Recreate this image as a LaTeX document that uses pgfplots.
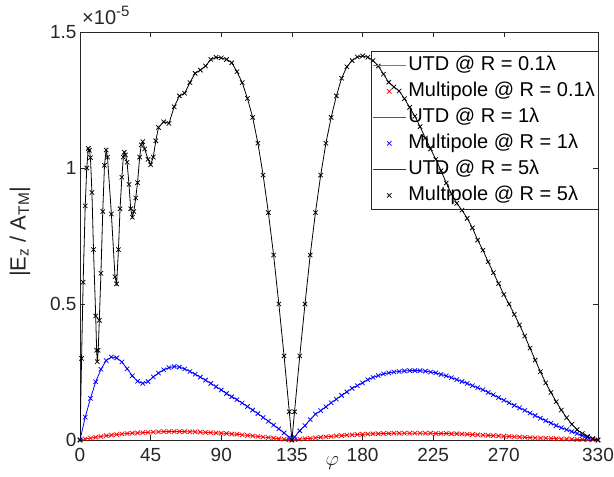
\documentclass[border=0pt]{standalone}
\usepackage{pgfplots}
\pgfplotsset{compat=1.18}
\usepackage{pgfplotstable}
\usepackage{fontspec}
\setmainfont{Liberation Sans}
\definecolor{axgray}{RGB}{38,38,38}
\pgfplotsset{
    legend image code/.code={\draw[mark repeat=2,mark phase=2,#1] plot coordinates {(0pt,0pt) (16.5pt,0pt) (33pt,0pt)};},
    mp/.style={draw=#1, color=#1, only marks, mark=x, mark size=3.1pt, line width=0.75pt},
}

% |Ez/ATM| in units of 1e-5; nan = point only on the black UTD curve
\pgfplotstableread{
phi     red    blue   black
0       0      0      0
1       nan    nan    0.30
2       nan    nan    0.58
3.333   0.004  0.084  0.861
4.3     nan    nan    1.00
5.3     nan    nan    1.072
6.0     nan    nan    1.065
6.667   0.007  0.153  1.038
7.6     nan    nan    0.91
8.6     nan    nan    0.70
10      0.010  0.214  0.456
10.6    nan    nan    0.33
11.0    nan    nan    0.288
11.6    nan    nan    0.33
12.3    nan    nan    0.44
13.333  0.013  0.260  0.613
14.5    nan    nan    0.84
15.6    nan    nan    1.01
16.667  0.016  0.292  1.066
17.5    nan    nan    1.04
20      0.018  0.305  0.831
22.3    nan    nan    0.60
23.333  0.020  0.302  0.574
24.5    nan    nan    0.70
25.5    nan    nan    0.85
26.667  0.022  0.287  0.966
27.6    nan    nan    1.04
28.2    nan    nan    1.058
29.0    nan    nan    1.048
30      0.024  0.262  1.021
31.2    nan    nan    0.94
32.3    nan    nan    0.85
33.333  0.025  0.236  0.819
34.3    nan    nan    0.84
35.5    nan    nan    0.89
36.667  0.026  0.216  0.946
38.0    nan    nan    1.04
39.0    nan    nan    1.085
40      0.027  0.208  1.097
41.2    nan    nan    1.07
43.333  0.028  0.215  1.032
45.0    nan    nan    1.012
46.667  0.029  0.232  1.040
48.3    nan    nan    1.10
50      0.030  0.246  1.149
53.333  0.031  0.258  1.170
56.667  0.031  0.266  1.164
60      0.031  0.270  1.225
63.333  0.031  0.268  1.265
66.667  0.031  0.261  1.275
70      0.030  0.252  1.314
73.333  0.030  0.242  1.348
76.667  0.029  0.231  1.360
80      0.028  0.220  1.375
83.333  0.027  0.208  1.399
86.667  0.026  0.196  1.407
90      0.025  0.184  1.405
93.333  0.024  0.171  1.399
96.667  0.022  0.159  1.387
100     0.021  0.148  1.354
103.333 0.019  0.136  1.314
106.667 0.017  0.123  1.256
110     0.015  0.110  1.186
113.333 0.013  0.097  1.091
116.667 0.011  0.083  0.974
120     0.009  0.069  0.836
123.333 0.007  0.055  0.680
126.667 0.005  0.041  0.500
130     0.003  0.026  0.309
133.333 0.001  0.010  0.104
135     0      0      0
136.667 0.001  0.011  0.104
140     0.003  0.034  0.309
143.333 0.005  0.053  0.500
146.667 0.006  0.075  0.680
150     0.008  0.095  0.836
153.333 0.010  0.108  0.974
156.667 0.012  0.122  1.091
160     0.013  0.137  1.186
163.333 0.015  0.150  1.265
166.667 0.016  0.164  1.330
170     0.018  0.177  1.372
173.333 0.019  0.190  1.395
176.667 0.020  0.200  1.408
180     0.021  0.210  1.412
183.333 0.022  0.222  1.407
186.667 0.023  0.230  1.395
190     0.023  0.237  1.375
193.333 0.024  0.243  1.345
196.667 0.024  0.247  1.315
200     0.025  0.250  1.298
203.333 0.025  0.252  1.283
206.667 0.025  0.254  1.255
210     0.025  0.255  1.223
213.333 0.025  0.255  1.190
216.667 0.025  0.255  1.152
220     0.025  0.253  1.110
223.333 0.025  0.250  1.070
226.667 0.024  0.247  1.032
230     0.024  0.241  0.990
233.333 0.024  0.236  0.945
236.667 0.023  0.229  0.905
240     0.023  0.222  0.870
243.333 0.022  0.215  0.845
246.667 0.021  0.208  0.815
250     0.020  0.200  0.780
253.333 0.019  0.192  0.735
256.667 0.018  0.185  0.698
260     0.017  0.175  0.655
263.333 0.016  0.166  0.615
266.667 0.015  0.156  0.575
270     0.014  0.146  0.535
273.333 0.013  0.137  0.500
276.667 0.012  0.127  0.462
280     0.011  0.118  0.423
283.333 0.010  0.109  0.382
286.667 0.009  0.099  0.338
290     0.008  0.090  0.294
293.333 0.007  0.080  0.251
296.667 0.007  0.071  0.210
300     0.006  0.062  0.175
303.333 0.005  0.053  0.141
306.667 0.004  0.045  0.110
310     0.004  0.038  0.082
313.333 0.003  0.031  0.058
316.667 0.002  0.024  0.038
320     0.002  0.016  0.024
323.333 0.001  0.010  0.013
326.667 0.001  0.005  0.005
330     0      0      0
}\fields

\begin{document}
\begin{tikzpicture}
\begin{axis}[
    name=ax,
    scale only axis,
    width=518pt, height=408pt,
    xmin=0, xmax=330, ymin=0, ymax=1.5,
    xtick={0,45,90,135,180,225,270,330},
    ytick={0,0.5,1,1.5},
    tick pos=both,
    tick align=inside,
    major tick length=5pt,
    axis line style={draw=axgray, line width=0.6pt},
    tick style={draw=axgray, line width=0.6pt},
    /pgf/number format/assume math mode=true,
    ticklabel style={font=\fontsize{19}{19}\selectfont, text=axgray},
    xticklabel style={yshift=-5pt},
    xlabel={$\varphi$},
    xlabel style={at={(axis description cs:0.487,-0.057)}, anchor=center, font=\fontsize{20}{20}\selectfont, text=axgray},
    ylabel={|E\textsubscript{z} / A\textsubscript{TM}|},
    ylabel style={at={(axis description cs:-0.116,0.51)}, anchor=center, font=\fontsize{22}{22}\selectfont, text=axgray},
    unbounded coords=discard,
    legend cell align=left,
    legend style={at={(1,0.953)}, anchor=north east, fill=none, draw=axgray,
        inner sep=1pt, row sep=0pt,
        font=\fontsize{20}{20}\selectfont,
        nodes={inner ysep=3pt, inner xsep=2pt, text height=15pt, text depth=5pt}},
]
\addplot[draw=red, line width=0.8pt, forget plot] table[x=phi, y=red] {\fields};
\addplot[draw=blue, line width=0.8pt, forget plot] table[x=phi, y=blue] {\fields};
\addplot[draw=black, line width=0.8pt, forget plot] table[x=phi, y=black] {\fields};
\addplot[mp=red, forget plot] table[x=phi, y=red] {\fields};
\addplot[mp=blue, forget plot] table[x=phi, y=blue] {\fields};
\addplot[mp=black, forget plot] table[x=phi, y=black] {\fields};
\addlegendimage{red!75!white, line width=1pt}
\addlegendentry{UTD @ R = 0.1λ}
\addlegendimage{mp=red}
\addlegendentry{Multipole @ R = 0.1λ}
\addlegendimage{blue!75!white, line width=1pt}
\addlegendentry{UTD @ R = 1λ}
\addlegendimage{mp=blue}
\addlegendentry{Multipole @ R = 1λ}
\addlegendimage{black!80!white, line width=1pt}
\addlegendentry{UTD @ R = 5λ}
\addlegendimage{mp=black}
\addlegendentry{Multipole @ R = 5λ}
\end{axis}
\node[anchor=base west, text=axgray, font=\fontsize{20}{20}\selectfont, inner sep=0pt]
    at ([shift={(2pt,7pt)}]ax.north west) {×10\raisebox{8pt}{\fontsize{15}{15}\selectfont -5}};
\pgfresetboundingbox
\path[use as bounding box] ([shift={(-80pt,-36pt)}]ax.south west) rectangle ([shift={(16pt,32pt)}]ax.north east);
\end{tikzpicture}
\end{document}
